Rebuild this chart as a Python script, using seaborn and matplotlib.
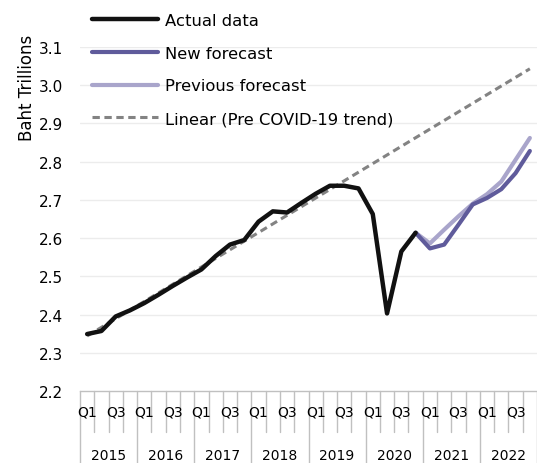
import matplotlib.pyplot as plt
import matplotlib.transforms as mtransforms
import numpy as np
import pandas as pd
import seaborn as sns

years = ['2015', '2016', '2017', '2018', '2019', '2020', '2021', '2022']
quarters = ['Q1', 'Q2', 'Q3', 'Q4']

actual = [2.349, 2.357, 2.395, 2.411, 2.430, 2.452, 2.475, 2.497,
          2.518, 2.553, 2.583, 2.595, 2.643, 2.670, 2.667, 2.692,
          2.716, 2.737, 2.737, 2.730, 2.663, 2.403, 2.565, 2.614]
new_forecast = [2.614, 2.573, 2.583, 2.635, 2.688, 2.705, 2.728, 2.770, 2.828]
prev_forecast = [2.614, 2.586, 2.622, 2.657, 2.690, 2.715, 2.748, 2.805, 2.862]
trend_ends = [2.344, 3.043]

n = len(years) * 4
df_act = pd.DataFrame({'q': np.arange(len(actual)), 'v': actual})
df_new = pd.DataFrame({'q': np.arange(23, 23 + len(new_forecast)), 'v': new_forecast})
df_prev = pd.DataFrame({'q': np.arange(23, 23 + len(prev_forecast)), 'v': prev_forecast})
df_trend = pd.DataFrame({'q': [0, n - 1], 'v': trend_ends})

sns.set_style('white')
plt.rcParams['font.family'] = ['DejaVu Sans']
plt.rcParams['text.color'] = 'black'
plt.rcParams['ytick.color'] = 'black'

fig = plt.figure(figsize=(5.37, 4.64), dpi=100)
ax = fig.add_axes([80 / 537, 1 - 392 / 464, 457 / 537, 344 / 464])

sns.lineplot(data=df_trend, x='q', y='v', ax=ax, color='#838383', lw=2.2,
             linestyle=(0, (2.4, 1.5)), label='Linear (Pre COVID-19 trend)', zorder=2)
sns.lineplot(data=df_prev, x='q', y='v', ax=ax, color='#a9a5cb', lw=3,
             label='Previous forecast', zorder=3)
sns.lineplot(data=df_new, x='q', y='v', ax=ax, color='#5f5b9b', lw=3,
             label='New forecast', zorder=4)
sns.lineplot(data=df_act, x='q', y='v', ax=ax, color='#111111', lw=3.2,
             label='Actual data', zorder=5)

ax.set_xlim(-0.5, n - 0.5)
ax.set_ylim(2.2, 3.1)
ax.set_yticks(np.arange(2.2, 3.15, 0.1))
ax.set_yticklabels([f'{v:.1f}' for v in np.arange(2.2, 3.15, 0.1)], fontsize=11)
ax.tick_params(axis='y', length=0, pad=12)
ax.set_xticks([])
ax.set_xlabel('')
ax.set_ylabel('')
for yv in np.arange(2.3, 3.15, 0.1):
    ax.axhline(yv, color='#ececec', lw=1, zorder=0)
for s in ['top', 'right', 'left']:
    ax.spines[s].set_visible(False)
ax.spines['bottom'].set_color('#c0c0c0')
ax.spines['bottom'].set_linewidth(1)

# two-level category axis
tr = mtransforms.blended_transform_factory(ax.transData, ax.transAxes)
for k in range(n + 1):
    low = -0.209 if k % 4 == 0 else -0.119
    ax.plot([k - 0.5, k - 0.5], [0, low], transform=tr, color='#c0c0c0',
            lw=1, clip_on=False)
for i in range(n):
    if i % 4 in (0, 2):
        ax.text(i, -0.061, quarters[i % 4], transform=tr, ha='center',
                va='center', fontsize=10)
for j, y in enumerate(years):
    ax.text(j * 4 + 1.5, -0.187, y, transform=tr, ha='center', va='center',
            fontsize=10)

ax.get_legend().remove()
h, l = ax.get_legend_handles_labels()
order = ['Actual data', 'New forecast', 'Previous forecast', 'Linear (Pre COVID-19 trend)']
hd = dict(zip(l, h))
fig.legend([hd[o] for o in order], order, loc='upper left',
           bbox_to_anchor=(92 / 537, 1 - 14 / 464), frameon=False, fontsize=11.8,
           handlelength=4.0, handletextpad=0.45, labelspacing=1.08,
           borderpad=0, borderaxespad=0)

fig.text(27 / 537, 1 - 88 / 464, 'Baht Trillions', rotation=90, ha='center',
         va='center', fontsize=12)

fig.savefig('out.png', dpi=100)
